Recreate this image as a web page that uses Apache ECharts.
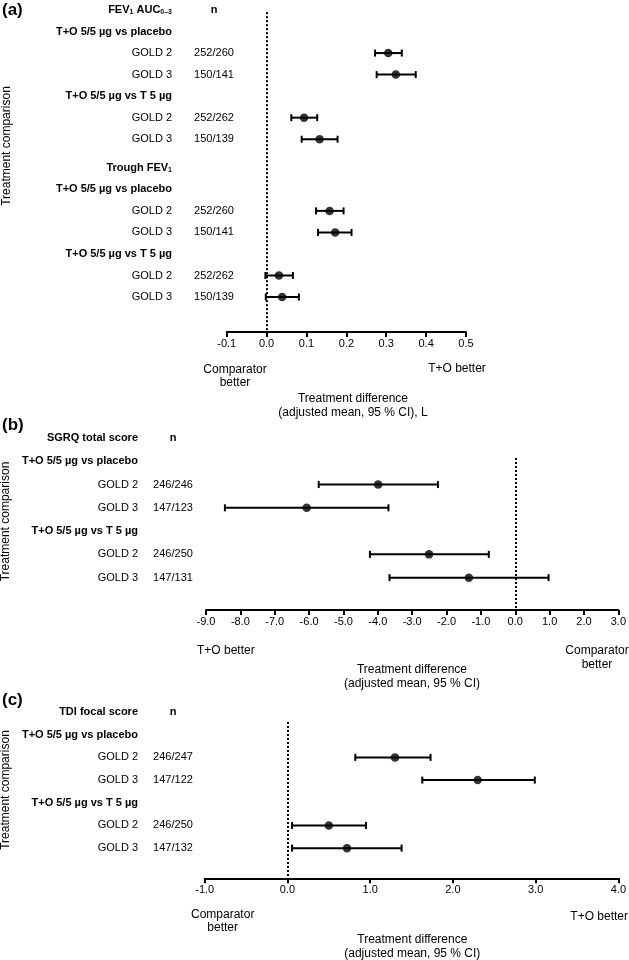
<!DOCTYPE html>
<html>
<head>
<meta charset="utf-8">
<script src="https://cdn.jsdelivr.net/npm/echarts@6/dist/echarts.min.js"></script>
<style>
  html, body { margin: 0; padding: 0; background: #fff; }
  #chart { width: 629px; height: 960px; }
</style>
</head>
<body>
<div id="chart"></div>
<script>
// ---------- DATA ----------
// Panel (a): FEV1 AUC0-3 and trough FEV1 (L)
const aLabels = ['FEV{s|1} AUC{s|0–3}', 'T+O 5/5 µg vs placebo', 'GOLD 2', 'GOLD 3', 'T+O 5/5 µg vs T 5 µg', 'GOLD 2', 'GOLD 3',
                 'Trough FEV{s|1}', 'T+O 5/5 µg vs placebo', 'GOLD 2', 'GOLD 3', 'T+O 5/5 µg vs T 5 µg', 'GOLD 2', 'GOLD 3'];
const aN     = ['n', '', '252/260', '150/141', '', '252/262', '150/139', '', '', '252/260', '150/141', '', '252/262', '150/139'];
const aMean  = [null, null, 0.305, 0.324, null, 0.094, 0.133, null, null, 0.158, 0.172, null, 0.031, 0.039];
const aLow   = [null, null, 0.272, 0.276, null, 0.062, 0.088, null, null, 0.124, 0.129, null, -0.003, -0.002];
const aHigh  = [null, null, 0.339, 0.374, null, 0.127, 0.178, null, null, 0.193, 0.213, null, 0.066, 0.081];
const aTicks = { min: -0.1, max: 0.5, interval: 0.1 };

// Panel (b): SGRQ total score
const bLabels = ['SGRQ total score', 'T+O 5/5 µg vs placebo', 'GOLD 2', 'GOLD 3', 'T+O 5/5 µg vs T 5 µg', 'GOLD 2', 'GOLD 3'];
const bN      = ['n', '', '246/246', '147/123', '', '246/250', '147/131'];
const bMean   = [null, null, -3.99, -6.07, null, -2.51, -1.35];
const bLow    = [null, null, -5.72, -8.45, null, -4.23, -3.66];
const bHigh   = [null, null, -2.25, -3.69, null, -0.77, 0.97];
const bTicks  = { min: -9, max: 3, interval: 1 };

// Panel (c): TDI focal score
const cLabels = ['TDI focal score', 'T+O 5/5 µg vs placebo', 'GOLD 2', 'GOLD 3', 'T+O 5/5 µg vs T 5 µg', 'GOLD 2', 'GOLD 3'];
const cN      = ['n', '', '246/247', '147/122', '', '246/250', '147/132'];
const cMean   = [null, null, 1.30, 2.30, null, 0.50, 0.72];
const cLow    = [null, null, 0.82, 1.63, null, 0.056, 0.056];
const cHigh   = [null, null, 1.73, 2.99, null, 0.95, 1.38];
const cTicks  = { min: -1, max: 4, interval: 1 };

// ---------- LAYOUT ----------
const FONT = "'Liberation Sans', Arial, Helvetica, sans-serif";
const panels = [
  { labels: aLabels, n: aN, mean: aMean, low: aLow, high: aHigh, ticks: aTicks,
    grid: { left: 226.7, top: 10, width: 239.3, height: 322 }, yMax: 14.955,
    gapAfter: 6, gapSize: 0.33, labelRight: 172, nX: 214, zeroTop: 0.1 },
  { labels: bLabels, n: bN, mean: bMean, low: bLow, high: bHigh, ticks: bTicks,
    grid: { left: 206, top: 438, width: 412.7, height: 172 }, yMax: 7.39,
    gapAfter: 99, gapSize: 0, labelRight: 138, nX: 173, zeroTop: 0.86 },
  { labels: cLabels, n: cN, mean: cMean, low: cLow, high: cHigh, ticks: cTicks,
    grid: { left: 204.7, top: 712, width: 414.6, height: 166.3 }, yMax: 7.33,
    gapAfter: 99, gapSize: 0, labelRight: 138, nX: 173, zeroTop: 0.44 }
];

function rowPos(p, i) { return i + (i > p.gapAfter ? p.gapSize : 0); }

const grids = [], xAxes = [], yAxes = [], series = [];
panels.forEach((p, k) => {
  grids.push(Object.assign({ containLabel: false }, p.grid));
  xAxes.push({
    type: 'value', gridIndex: k, position: 'bottom',
    min: p.ticks.min, max: p.ticks.max, interval: p.ticks.interval,
    axisLine: { show: true, onZero: false, lineStyle: { color: '#000', width: 2 } },
    axisTick: { show: true, inside: false, length: 5, lineStyle: { color: '#000', width: 2 } },
    axisLabel: { color: '#000', fontSize: 11, fontFamily: FONT, margin: 6,
                 formatter: v => (Math.round(v * 10) / 10).toFixed(1) },
    splitLine: { show: false }
  });
  yAxes.push({ type: 'value', gridIndex: k, inverse: true, min: 0, max: p.yMax, show: false });

  // row labels and n column
  series.push({
    type: 'custom', xAxisIndex: k, yAxisIndex: k, clip: false, silent: true,
    encode: { x: 0, y: 1 },
    data: p.labels.map((l, i) => [p.ticks.min, rowPos(p, i)]),
    renderItem: (params, api) => {
      const i = params.dataIndex;
      const y = api.coord([api.value(0), api.value(1)])[1];
      const bold = p.mean[i] == null;
      const font = (bold ? 'bold ' : '') + '11px ' + FONT;
      return {
        type: 'group',
        children: [
          { type: 'text', x: p.labelRight, y: y,
            style: { text: p.labels[i], align: 'right', verticalAlign: 'middle', font: font, fill: '#000',
                     rich: { s: { fontSize: 7, fontWeight: 'bold', fontFamily: FONT, fill: '#000',
                                  verticalAlign: 'bottom', lineHeight: 8, padding: [4, 0, 0, 0] } } } },
          { type: 'text', x: p.nX, y: y,
            style: { text: p.n[i], align: 'center', verticalAlign: 'middle', font: font, fill: '#000' } }
        ]
      };
    }
  });

  // confidence intervals
  const ciData = [];
  const meanData = [];
  p.mean.forEach((m, i) => {
    if (m == null) return;
    ciData.push([p.low[i], p.high[i], rowPos(p, i)]);
    meanData.push([m, rowPos(p, i)]);
  });
  series.push({
    type: 'custom', xAxisIndex: k, yAxisIndex: k, clip: false, silent: true,
    encode: { x: [0, 1], y: 2 },
    data: ciData,
    renderItem: (params, api) => {
      const a = api.coord([api.value(0), api.value(2)]);
      const b = api.coord([api.value(1), api.value(2)]);
      const h = 3.5;
      const st = { stroke: '#000', lineWidth: 2 };
      return {
        type: 'group',
        children: [
          { type: 'line', shape: { x1: a[0], y1: a[1], x2: b[0], y2: b[1] }, style: st },
          { type: 'line', shape: { x1: a[0], y1: a[1] - h, x2: a[0], y2: a[1] + h }, style: st },
          { type: 'line', shape: { x1: b[0], y1: b[1] - h, x2: b[0], y2: b[1] + h }, style: st }
        ]
      };
    }
  });

  // means + zero reference line
  series.push({
    type: 'scatter', xAxisIndex: k, yAxisIndex: k, silent: true,
    symbol: 'circle', symbolSize: 8.5, itemStyle: { color: '#000' },
    data: meanData, z: 5,
    markLine: {
      silent: true, symbol: 'none', label: { show: false },
      lineStyle: { color: '#000', width: 2, type: [2, 2] },
      data: [[{ coord: [0, p.zeroTop] }, { coord: [0, p.yMax] }]]
    }
  });
});

// annotation texts
function txt(text, x, y, opts) {
  return {
    type: 'text', x: x, y: y, silent: true,
    style: Object.assign({ text: text, fill: '#000', font: '12px ' + FONT, align: 'center',
                           verticalAlign: 'middle', lineHeight: 14 }, opts || {})
  };
}
const graphic = [
  txt('(a)', 2, 10, { align: 'left', font: 'bold 17px ' + FONT }),
  txt('(b)', 2, 425, { align: 'left', font: 'bold 17px ' + FONT }),
  txt('(c)', 2, 700, { align: 'left', font: 'bold 17px ' + FONT }),
  Object.assign(txt('Treatment comparison', 7, 146), { rotation: Math.PI / 2 }),
  Object.assign(txt('Treatment comparison', 6, 521.5), { rotation: Math.PI / 2 }),
  Object.assign(txt('Treatment comparison', 6, 790), { rotation: Math.PI / 2 }),
  txt('Comparator\nbetter', 235, 376, { lineHeight: 13.5 }),
  txt('T+O better', 457, 369),
  txt('Treatment difference\n(adjusted mean, 95 % CI), L', 353, 406),
  txt('T+O better', 197, 651, { align: 'left' }),
  txt('Comparator\nbetter', 597, 657.5, { lineHeight: 13.5 }),
  txt('Treatment difference\n(adjusted mean, 95 % CI)', 412, 677),
  txt('Comparator\nbetter', 222.7, 921, { lineHeight: 13.5 }),
  txt('T+O better', 628, 917, { align: 'right' }),
  txt('Treatment difference\n(adjusted mean, 95 % CI)', 412.3, 946.5)
];

const chart = echarts.init(document.getElementById('chart'), null, { renderer: 'canvas' });
chart.setOption({
  backgroundColor: '#fff',
  animation: false,
  grid: grids, xAxis: xAxes, yAxis: yAxes, series: series, graphic: graphic
});
</script>
</body>
</html>
